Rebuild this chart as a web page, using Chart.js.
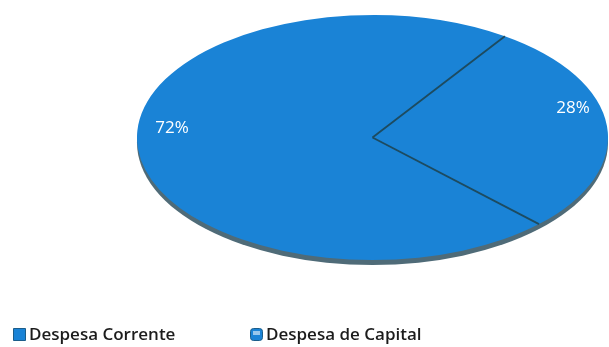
<!DOCTYPE html>
<html>
<head>
<meta charset="utf-8">
<script src="https://cdn.jsdelivr.net/npm/chart.js@4/dist/chart.umd.min.js"></script>
<style>
  html, body { margin: 0; padding: 0; background: #ffffff; }
  #wrap { width: 609px; height: 347px; position: relative; }
</style>
</head>
<body>
<div id="wrap"><canvas id="chart"></canvas></div>
<script>
// Expenditure split (percent of total)
const categories = ['Despesa Corrente', 'Despesa de Capital'];
const shares = [72, 28];
const sliceColors = ['#1a83d6', '#1a83d6'];

const separatorColor = '#1d4b60';
const sideColor = '#4f6b78';
const sideDepth = 5;          // thickness of the tilted disc's visible edge
const labelRadius = 0.855;    // label distance as a fraction of the radius
const labelLift = 19;         // perspective lift of the labels
const legendX = [13, 250];    // left edge of each legend entry
const legendTop = 328;
const legendBox = 13;
const legendFont = '600 17px "Open Sans", sans-serif';

// Geometry of the pie, with horizontal stretch so the disc fills the chart area as an ellipse
function discGeometry(chart) {
  const meta = chart.getDatasetMeta(0);
  const arc = meta.data[0];
  if (!arc) return null;
  const p = arc.getProps(['x', 'y', 'outerRadius'], true);
  const sx = (chart.chartArea.width / 2) / p.outerRadius;
  return { cx: p.x, cy: p.y, r: p.outerRadius, sx, arcs: meta.data };
}

const tiltedDisc = {
  id: 'tiltedDisc',
  beforeDatasetsDraw(chart) {
    const g = discGeometry(chart);
    const ctx = chart.ctx;
    ctx.save();
    if (!g) return;
    // visible side of the disc
    ctx.save();
    ctx.translate(g.cx, g.cy + sideDepth);
    ctx.scale(g.sx, 1);
    ctx.beginPath();
    ctx.arc(0, 0, g.r, 0, Math.PI * 2);
    ctx.fillStyle = sideColor;
    ctx.fill();
    ctx.restore();
    // stretch the slices into an ellipse
    ctx.translate(g.cx, g.cy);
    ctx.scale(g.sx, 1);
    ctx.translate(-g.cx, -g.cy);
  },
  afterDatasetsDraw(chart) {
    const ctx = chart.ctx;
    ctx.restore();
    const g = discGeometry(chart);
    if (!g) return;
    const values = chart.data.datasets[0].data;

    // slice separators
    ctx.save();
    ctx.strokeStyle = separatorColor;
    ctx.lineWidth = 1.8;
    g.arcs.forEach((a) => {
      const { startAngle } = a.getProps(['startAngle'], true);
      ctx.beginPath();
      ctx.moveTo(g.cx, g.cy);
      ctx.lineTo(g.cx + g.r * Math.cos(startAngle) * g.sx, g.cy + g.r * Math.sin(startAngle));
      ctx.stroke();
    });
    ctx.restore();

    // percentage labels
    ctx.save();
    ctx.fillStyle = '#ffffff';
    ctx.font = '17px "Open Sans", sans-serif';
    ctx.textAlign = 'center';
    ctx.textBaseline = 'middle';
    g.arcs.forEach((a, i) => {
      const { startAngle, endAngle } = a.getProps(['startAngle', 'endAngle'], true);
      const mid = (startAngle + endAngle) / 2;
      const x = g.cx + labelRadius * g.r * Math.cos(mid) * g.sx;
      const y = g.cy + labelRadius * g.r * Math.sin(mid) - labelLift;
      ctx.fillText(values[i] + '%', x, y);
    });
    ctx.restore();
  }
};

const bottomLegend = {
  id: 'bottomLegend',
  afterDraw(chart) {
    const ctx = chart.ctx;
    const ds = chart.data.datasets[0];
    ctx.save();
    ctx.font = legendFont;
    ctx.textBaseline = 'middle';
    ctx.textAlign = 'left';
    chart.data.labels.forEach((label, i) => {
      const x = legendX[i];
      ctx.fillStyle = ds.backgroundColor[i];
      ctx.strokeStyle = '#1b5d8a';
      ctx.lineWidth = 1;
      ctx.beginPath();
      if (i === 1) {
        ctx.roundRect(x + 0.5, legendTop + 0.5, legendBox - 1, legendBox - 1, 3);
      } else {
        ctx.rect(x + 0.5, legendTop + 0.5, legendBox - 1, legendBox - 1);
      }
      ctx.fill();
      ctx.stroke();
      if (i === 1) {
        ctx.fillStyle = 'rgba(255,255,255,0.55)';
        ctx.fillRect(x + 3, legendTop + 3, legendBox - 6, 4);
      }
      ctx.fillStyle = '#1c1c1c';
      ctx.fillText(label, x + legendBox + 3, legendTop + legendBox / 2 + 0.5);
    });
    ctx.restore();
  }
};

new Chart(document.getElementById('chart'), {
  type: 'pie',
  data: {
    labels: categories,
    datasets: [{
      data: shares,
      backgroundColor: sliceColors,
      borderWidth: 0,
      hoverOffset: 0
    }]
  },
  options: {
    responsive: true,
    maintainAspectRatio: false,
    animation: false,
    rotation: 135,
    layout: { padding: { left: 137, right: 1, top: 15, bottom: 87 } },
    plugins: {
      legend: { display: false },
      tooltip: { enabled: false }
    },
    events: []
  },
  plugins: [tiltedDisc, bottomLegend]
});
</script>
</body>
</html>
